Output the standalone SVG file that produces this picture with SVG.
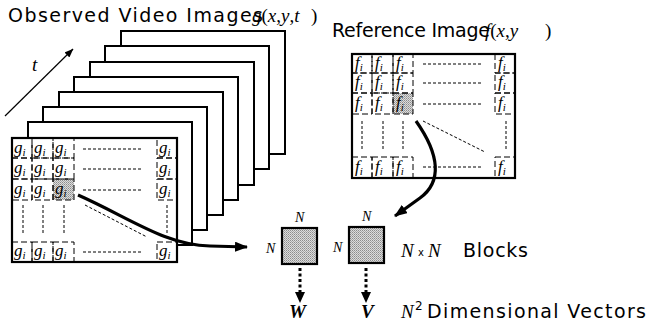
<svg xmlns="http://www.w3.org/2000/svg" width="652" height="336" viewBox="0 0 652 336">
  <style>
    .frame { fill: #fff; stroke: #000; stroke-width: 2; }
    .box { fill: #fff; stroke: #000; stroke-width: 2.2; }
    .cell { fill: none; stroke: #000; stroke-width: 1; stroke-dasharray: 6 3; }
    .dot { fill: none; stroke: #000; stroke-width: 1; stroke-dasharray: 3 2; }
    .m { font-family: "Liberation Serif", "Times New Roman", serif; font-style: italic; font-size: 17px; fill: #000; }
    .sub { font-size: 11px; }
    .title { font-family: "DejaVu Sans", "Liberation Sans", sans-serif; font-size: 19px; fill: #000; }
    .math { font-family: "Liberation Serif", "Times New Roman", serif; font-size: 19px; fill: #000; }
    .it { font-style: italic; }
    .n { font-family: "Liberation Serif", serif; font-style: italic; font-size: 14px; fill: #000; }
    .block { fill: url(#hatch); stroke: #000; stroke-width: 2.2; }
    .thick { fill: none; stroke: #000; stroke-width: 3.2; }
    .dash { fill: none; stroke: #000; stroke-width: 3; stroke-dasharray: 3 2.5; }
  </style>
  <defs>
    <!-- fine grey screen used for the highlighted blocks -->
    <pattern id="hatch" width="2" height="2" patternUnits="userSpaceOnUse">
      <rect width="2" height="2" fill="#dcdcdc"/>
      <rect width="1" height="1" fill="#8c8c8c"/>
      <rect x="1" y="1" width="1" height="1" fill="#a8a8a8"/>
    </pattern>
    <marker id="headBig" markerWidth="13" markerHeight="10" refX="12" refY="5" orient="auto" markerUnits="userSpaceOnUse">
      <path d="M0,0 L13,5 L0,10 Z" fill="#000"/>
    </marker>
    <marker id="headSmall" markerWidth="9" markerHeight="7" refX="8.5" refY="3.5" orient="auto" markerUnits="userSpaceOnUse">
      <path d="M0,0 L9,3.5 L0,7 Z" fill="#000"/>
    </marker>
  </defs>

  <!-- titles -->
  <g id="title-observed">
    <text class="title" x="8" y="22" textLength="255" lengthAdjust="spacing">Observed Video Images</text>
    <text class="math" x="252" y="22"><tspan class="it">g</tspan>(<tspan class="it">x</tspan>,<tspan class="it">y</tspan>,<tspan class="it">t</tspan></text>
    <text class="math" x="311" y="22">)</text>
  </g>
  <g id="title-reference">
    <text class="title" x="332" y="37" textLength="158" lengthAdjust="spacing">Reference Image</text>
    <text class="math" x="485" y="37"><tspan class="it">f</tspan>(<tspan class="it">x</tspan>,<tspan class="it">y</tspan></text>
    <text class="math" x="545" y="37">)</text>
  </g>

  <!-- time axis -->
  <g id="time-axis">
    <line x1="5" y1="116" x2="73" y2="49" stroke="#000" stroke-width="1.2" marker-end="url(#headSmall)"/>
    <text class="math it" x="32" y="71">t</text>
  </g>

  <!-- stack of video frames, back to front -->
  <g id="video-frames">
    <rect class="frame" x="121" y="31" width="164" height="123"/>
    <rect class="frame" x="105" y="46" width="164" height="123"/>
    <rect class="frame" x="90" y="62" width="164" height="123"/>
    <rect class="frame" x="74" y="77" width="164" height="123"/>
    <rect class="frame" x="59" y="92" width="164" height="123"/>
    <rect class="frame" x="43" y="107" width="164" height="123"/>
    <rect class="frame" x="28" y="122" width="164" height="123"/>
  </g>

  <!-- front frame with block grid -->
  <g id="observed-frame">
    <rect class="box" x="12" y="138" width="165" height="124"/>
    <rect x="53" y="179" width="21" height="21" fill="url(#hatch)"/>
    <g class="cells">
      <rect class="cell" x="12" y="138" width="20" height="20"/>
      <rect class="cell" x="32" y="138" width="21" height="20"/>
      <rect class="cell" x="53" y="138" width="21" height="20"/>
      <rect class="cell" x="157" y="138" width="20" height="20"/>
      <rect class="cell" x="12" y="158" width="20" height="21"/>
      <rect class="cell" x="32" y="158" width="21" height="21"/>
      <rect class="cell" x="53" y="158" width="21" height="21"/>
      <rect class="cell" x="157" y="158" width="20" height="21"/>
      <rect class="cell" x="12" y="179" width="20" height="21"/>
      <rect class="cell" x="32" y="179" width="21" height="21"/>
      <rect class="cell" x="53" y="179" width="21" height="21"/>
      <rect class="cell" x="157" y="179" width="20" height="21"/>
      <rect class="cell" x="12" y="242" width="20" height="20"/>
      <rect class="cell" x="32" y="242" width="21" height="20"/>
      <rect class="cell" x="53" y="242" width="21" height="20"/>
      <rect class="cell" x="157" y="242" width="20" height="20"/>
    </g>
    <g class="labels">
      <text class="m" x="14" y="153">g<tspan class="sub" dy="3">i</tspan></text>
      <text class="m" x="34" y="153">g<tspan class="sub" dy="3">i</tspan></text>
      <text class="m" x="55" y="153">g<tspan class="sub" dy="3">i</tspan></text>
      <text class="m" x="159" y="153">g<tspan class="sub" dy="3">i</tspan></text>
      <text class="m" x="14" y="173">g<tspan class="sub" dy="3">i</tspan></text>
      <text class="m" x="34" y="173">g<tspan class="sub" dy="3">i</tspan></text>
      <text class="m" x="55" y="173">g<tspan class="sub" dy="3">i</tspan></text>
      <text class="m" x="159" y="173">g<tspan class="sub" dy="3">i</tspan></text>
      <text class="m" x="14" y="194">g<tspan class="sub" dy="3">i</tspan></text>
      <text class="m" x="34" y="194">g<tspan class="sub" dy="3">i</tspan></text>
      <text class="m" x="55" y="194">g<tspan class="sub" dy="3">i</tspan></text>
      <text class="m" x="159" y="194">g<tspan class="sub" dy="3">i</tspan></text>
      <text class="m" x="14" y="256">g<tspan class="sub" dy="3">i</tspan></text>
      <text class="m" x="34" y="256">g<tspan class="sub" dy="3">i</tspan></text>
      <text class="m" x="55" y="256">g<tspan class="sub" dy="3">i</tspan></text>
      <text class="m" x="159" y="256">g<tspan class="sub" dy="3">i</tspan></text>
    </g>
    <path class="dot" d="M83,149 H143 M83,169 H143 M83,190 H143 M83,252 H143"/>
    <path class="dot" d="M23,205 V235 M43,205 V235 M64,205 V235 M167,205 V235"/>
    <path class="dot" d="M85,205 L147,237"/>
  </g>

  <!-- reference image with block grid -->
  <g id="reference-image">
    <rect class="box" x="352" y="54" width="163" height="124"/>
    <rect x="393" y="93" width="20" height="21" fill="url(#hatch)"/>
    <g class="cells">
      <rect class="cell" x="352" y="54" width="20" height="19"/>
      <rect class="cell" x="372" y="54" width="21" height="19"/>
      <rect class="cell" x="393" y="54" width="20" height="19"/>
      <rect class="cell" x="495" y="54" width="20" height="19"/>
      <rect class="cell" x="352" y="73" width="20" height="20"/>
      <rect class="cell" x="372" y="73" width="21" height="20"/>
      <rect class="cell" x="393" y="73" width="20" height="20"/>
      <rect class="cell" x="495" y="73" width="20" height="20"/>
      <rect class="cell" x="352" y="93" width="20" height="21"/>
      <rect class="cell" x="372" y="93" width="21" height="21"/>
      <rect class="cell" x="393" y="93" width="20" height="21"/>
      <rect class="cell" x="495" y="93" width="20" height="21"/>
      <rect class="cell" x="352" y="157" width="20" height="21"/>
      <rect class="cell" x="372" y="157" width="21" height="21"/>
      <rect class="cell" x="393" y="157" width="20" height="21"/>
      <rect class="cell" x="495" y="157" width="20" height="21"/>
    </g>
    <g class="labels">
      <text class="m" x="355" y="68">f<tspan class="sub" dy="3">i</tspan></text>
      <text class="m" x="375" y="68">f<tspan class="sub" dy="3">i</tspan></text>
      <text class="m" x="396" y="68">f<tspan class="sub" dy="3">i</tspan></text>
      <text class="m" x="498" y="68">f<tspan class="sub" dy="3">i</tspan></text>
      <text class="m" x="355" y="87">f<tspan class="sub" dy="3">i</tspan></text>
      <text class="m" x="375" y="87">f<tspan class="sub" dy="3">i</tspan></text>
      <text class="m" x="396" y="87">f<tspan class="sub" dy="3">i</tspan></text>
      <text class="m" x="498" y="87">f<tspan class="sub" dy="3">i</tspan></text>
      <text class="m" x="355" y="108">f<tspan class="sub" dy="3">i</tspan></text>
      <text class="m" x="375" y="108">f<tspan class="sub" dy="3">i</tspan></text>
      <text class="m" x="396" y="108">f<tspan class="sub" dy="3">i</tspan></text>
      <text class="m" x="498" y="108">f<tspan class="sub" dy="3">i</tspan></text>
      <text class="m" x="355" y="172">f<tspan class="sub" dy="3">i</tspan></text>
      <text class="m" x="375" y="172">f<tspan class="sub" dy="3">i</tspan></text>
      <text class="m" x="396" y="172">f<tspan class="sub" dy="3">i</tspan></text>
      <text class="m" x="498" y="172">f<tspan class="sub" dy="3">i</tspan></text>
    </g>
    <path class="dot" d="M423,64 H483 M423,83 H483 M423,104 H483 M423,167 H483"/>
    <path class="dot" d="M362,121 V151 M383,121 V151 M403,121 V151 M506,121 V151"/>
    <path class="dot" d="M423,121 L485,152"/>
  </g>

  <!-- N x N blocks -->
  <g id="block-w">
    <rect class="block" x="282" y="228" width="35" height="36"/>
    <text class="n" x="295" y="222">N</text>
    <text class="n" x="266" y="253">N</text>
  </g>
  <g id="block-v">
    <rect class="block" x="349" y="227" width="35" height="36"/>
    <text class="n" x="362" y="221">N</text>
    <text class="n" x="333" y="252">N</text>
  </g>

  <!-- vector labels -->
  <g id="vector-w">
    <text class="math" x="289" y="318" font-weight="bold" font-style="italic" font-size="20">W</text>
  </g>
  <g id="vector-v">
    <text class="math" x="361" y="318" font-weight="bold" font-style="italic" font-size="20">V</text>
  </g>

  <!-- legend texts -->
  <g id="label-blocks">
    <text class="math it" x="401" y="257" font-size="20">N</text>
    <text x="418" y="256" font-family="DejaVu Sans, sans-serif" font-size="10">x</text>
    <text class="math it" x="428" y="257" font-size="20">N</text>
    <text class="title" x="463" y="257" textLength="65" lengthAdjust="spacing">Blocks</text>
  </g>
  <g id="label-vectors">
    <text class="math it" x="401" y="318" font-size="20">N</text>
    <text x="415" y="310" font-family="DejaVu Sans, sans-serif" font-size="12">2</text>
    <text class="title" x="427" y="318" textLength="219" lengthAdjust="spacing">Dimensional Vectors</text>
  </g>

  <!-- connectors -->
  <g id="connectors">
    <path class="thick" d="M78,195 C130,218 165,245 210,246 L247,247" marker-end="url(#headBig)"/>
    <path class="thick" d="M416,121 C440,155 442,182 420,198 L395,216" marker-end="url(#headBig)"/>
    <line class="dash" x1="300" y1="268" x2="300" y2="293"/>
    <path d="M295,292 L305,292 L300,303 Z" fill="#000"/>
    <line class="dash" x1="366" y1="268" x2="366" y2="293"/>
    <path d="M361,292 L371,292 L366,303 Z" fill="#000"/>
  </g>
</svg>
